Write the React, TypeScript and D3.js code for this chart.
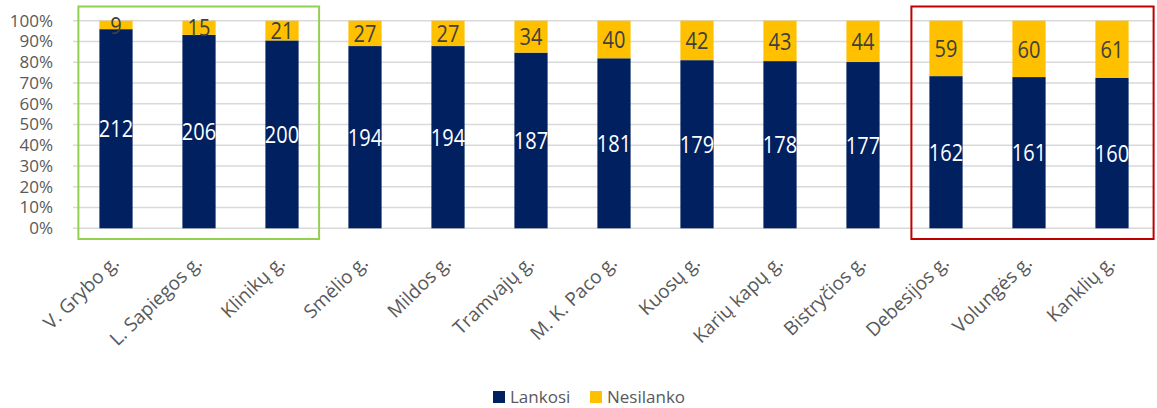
import * as d3 from "d3";

const width = 1157;
const height = 408;

const categories = [
  "V. Grybo g.",
  "L. Sapiegos g.",
  "Klinikų g.",
  "Smėlio g.",
  "Mildos g.",
  "Tramvajų g.",
  "M. K. Paco g.",
  "Kuosų g.",
  "Karių kapų g.",
  "Bistryčios g.",
  "Debesijos g.",
  "Volungės g.",
  "Kanklių g.",
];
const lankosi = [212, 206, 200, 194, 194, 187, 181, 179, 178, 177, 162, 161, 160];
const nesilanko = [9, 15, 21, 27, 27, 34, 40, 42, 43, 44, 59, 60, 61];
const seriesNames = ["Lankosi", "Nesilanko"];
const tickValues = [0, 0.1, 0.2, 0.3, 0.4, 0.5, 0.6, 0.7, 0.8, 0.9, 1];

const navy = "#002060";
const gold = "#ffc000";
const font = "'Open Sans', 'Noto Sans', sans-serif";

const App = () => {
  const x = d3
    .scaleBand<string>()
    .domain(categories)
    .range([74.5, 1153.5])
    .paddingInner(0.6)
    .paddingOuter(0.3);
  const y = d3.scaleLinear().domain([0, 1]).range([228.3, 20.7]);
  const pct = d3.format(".0%");

  const rows = categories.map((c, i) => {
    const total = lankosi[i] + nesilanko[i];
    return { c, a: lankosi[i], b: nesilanko[i], pa: lankosi[i] / total };
  });

  // highlight boxes around groups of streets
  const box = (from: number, to: number, padL: number, padR: number) => {
    const x0 = (x(categories[from]) as number) - padL;
    const x1 = (x(categories[to]) as number) + x.bandwidth() + padR;
    return { x: x0, y: 6.5, w: x1 - x0, h: 232.5 };
  };
  const green = box(0, 2, 21, 20.5);
  const red = box(10, 12, 18, 25);

  return (
    <svg
      width={width}
      height={height}
      style={{ position: "absolute", left: 0, top: 0, background: "#fff" }}
      fontFamily={font}
    >
      {tickValues.map((t) => (
        <g key={t}>
          <line x1={73} x2={1153} y1={y(t)} y2={y(t)} stroke="#d9d9d9" strokeWidth={1.4} />
          <text
            x={53}
            y={y(t)}
            dy="0.35em"
            textAnchor="end"
            fontSize={17}
            fill="#595959"
          >
            {pct(t)}
          </text>
        </g>
      ))}

      {rows.map((r) => {
        const bx = x(r.c) as number;
        const cx = bx + x.bandwidth() / 2;
        return (
          <g key={r.c}>
            <rect x={bx} y={y(r.pa)} width={x.bandwidth()} height={y(0) - y(r.pa)} fill={navy} />
            <rect x={bx} y={y(1)} width={x.bandwidth()} height={y(r.pa) - y(1)} fill={gold} />
            <text
              transform={`translate(${cx},${(y(0) + y(r.pa)) / 2}) scale(1,1.2)`}
              dy="0.36em"
              textAnchor="middle"
              fontSize={20}
              fill="#ffffff"
            >
              {r.a}
            </text>
            <text
              transform={`translate(${cx},${(y(r.pa) + y(1)) / 2}) scale(1,1.2)`}
              dy="0.36em"
              textAnchor="middle"
              fontSize={20}
              fill="#404040"
            >
              {r.b}
            </text>
            <text
              transform={`translate(${cx + 4},264) rotate(-44)`}
              textAnchor="end"
              fontSize={19}
              fill="#595959"
            >
              {r.c}
            </text>
          </g>
        );
      })}

      <rect x={green.x} y={green.y} width={green.w} height={green.h} fill="none" stroke="#92d050" strokeWidth={2} />
      <rect x={red.x} y={red.y} width={red.w} height={red.h} fill="none" stroke="#c00000" strokeWidth={2} />

      <g fontSize={17} fill="#595959">
        <rect x={493} y={391} width={12} height={12} fill={navy} />
        <text x={510} y={397} dy="0.35em">
          {seriesNames[0]}
        </text>
        <rect x={590} y={391} width={12} height={12} fill={gold} />
        <text x={607} y={397} dy="0.35em">
          {seriesNames[1]}
        </text>
      </g>
    </svg>
  );
};

export default App;
